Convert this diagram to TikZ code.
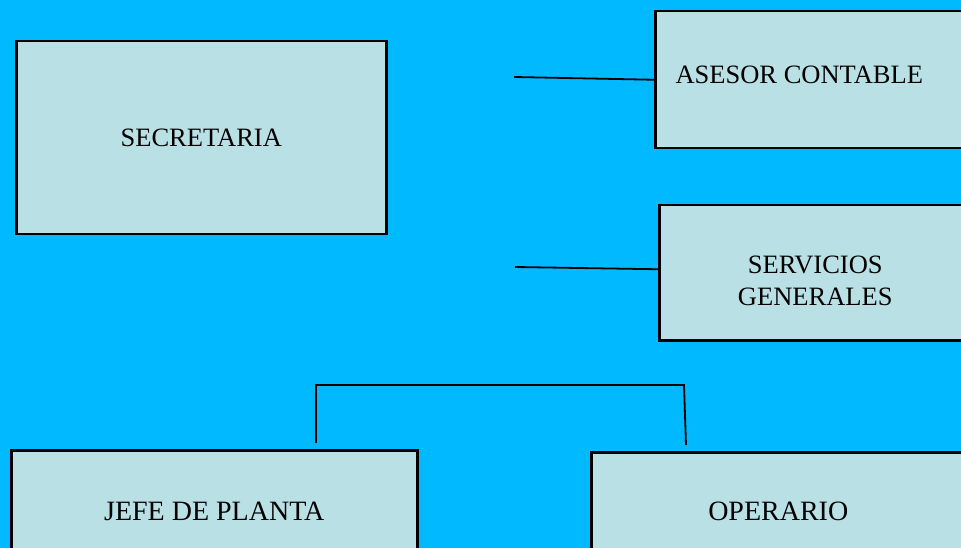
\documentclass[tikz,border=0pt]{standalone}
\usepackage{fontspec}
\setmainfont{Liberation Serif}
\usetikzlibrary{positioning}
\definecolor{skyback}{RGB}{0,185,255}
\definecolor{boxfill}{RGB}{185,224,228}
\tikzstyle{unit}=[rectangle,draw=black,line width=2.5pt,fill=boxfill,anchor=north west,inner sep=0pt,align=center,font=\fontsize{26.5}{32}\selectfont]
\tikzstyle{tag}=[align=center,font=\fontsize{26.5}{32}\selectfont]
\tikzstyle{edge} = [draw,line width=1.8pt,-]

\begin{document}
\begin{tikzpicture}[x=1pt,y=-1pt]
    % Background first
    \fill[skyback] (0,0) rectangle (961,548);
    \useasboundingbox (0,0) rectangle (961,548);
    % Then the boxes
    \node[unit,minimum width=370pt,minimum height=193pt] (secretaria) at (15,40) {SECRETARIA};
    \node[unit,minimum width=320pt,minimum height=137pt,label={[tag,xshift=-16pt,yshift=4.5pt]center:ASESOR CONTABLE}] (asesor) at (654,10) {};
    \node[unit,minimum width=320pt,minimum height=135pt,label={[tag,xshift=-4pt,yshift=-8.5pt]center:SERVICIOS\\GENERALES}] (servicios) at (658,204) {};
    \node[unit,minimum width=406pt,minimum height=122pt,font=\fontsize{28}{32}\selectfont] (jefe) at (10,449) {JEFE DE PLANTA};
    \node[unit,minimum width=374pt,minimum height=118pt,font=\fontsize{28}{32}\selectfont] (operario) at (590,451) {OPERARIO};
    % Loose ends of the connectors
    \coordinate (a0) at (514,77);
    \coordinate (s0) at (515,267);
    \coordinate (j0) at (316,443);
    \coordinate (o0) at (686,445);
    % Connect them
    \path[edge] (a0) -- (asesor.west);
    \path[edge] (s0) -- ([yshift=3.5pt]servicios.west);
    \path[edge] (j0) -- (316,385) -- (684,385) -- (o0);
\end{tikzpicture}
\end{document}
